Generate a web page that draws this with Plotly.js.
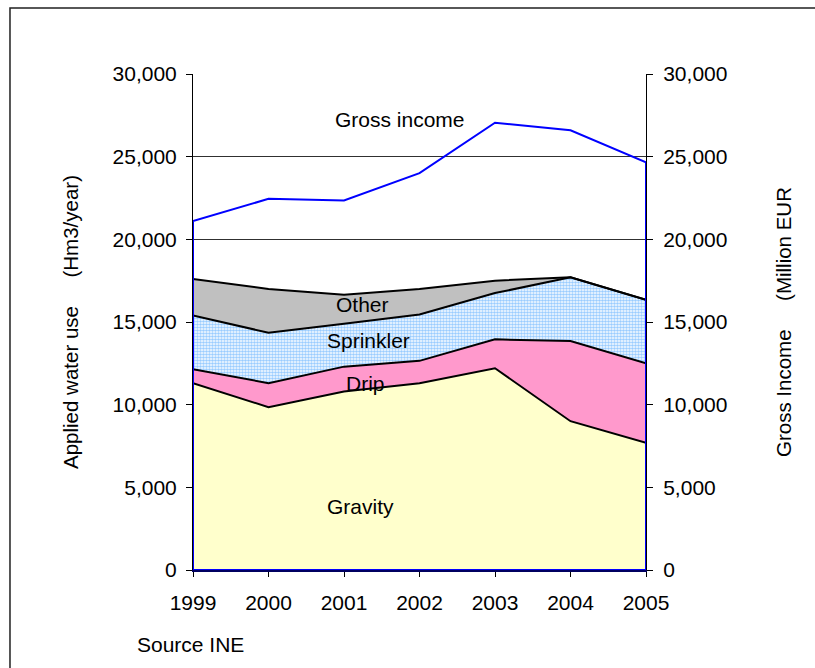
<!DOCTYPE html>
<html>
<head>
<meta charset="utf-8">
<script src="https://cdn.plot.ly/plotly-3.0.1.min.js"></script>
<style>html,body{margin:0;padding:0;background:#fff;}</style>
</head>
<body>
<div id="chart" style="width:815px;height:668px;"></div>
<script>
// ---- data ----
const years = [1999, 2000, 2001, 2002, 2003, 2004, 2005];
const gravity   = [11300, 9850, 10800, 11300, 12200, 9000, 7700];
const drip      = [850, 1450, 1500, 1350, 1750, 4850, 4800];
const sprinkler = [3250, 3050, 2600, 2800, 2800, 3850, 3850];
const other     = [2200, 2650, 1750, 1550, 750, 0, 0];
const grossIncome = [21100, 22450, 22350, 24000, 27050, 26600, 24650];
const seriesNames = ["Gravity", "Drip", "Sprinkler", "Other"];
const yTicks = [0, 5000, 10000, 15000, 20000, 25000, 30000];

const FONT = "Liberation Sans, Arial, sans-serif";
const FS = 21;
const TFS = 20.5;

const areaLine = {color: "#000000", width: 2};
const traces = [
  {x: years, y: gravity, name: seriesNames[0], stackgroup: "w", mode: "lines",
   line: areaLine, fillcolor: "#FFFFCC"},
  {x: years, y: drip, name: seriesNames[1], stackgroup: "w", mode: "lines",
   line: areaLine, fillcolor: "#FF99CC"},
  {x: years, y: sprinkler, name: seriesNames[2], stackgroup: "w", mode: "lines",
   line: areaLine, fillcolor: "#D4E8FC",
   fillpattern: {shape: ".", bgcolor: "#FFFFFF", fgcolor: "#99CCFF", size: 3, solidity: 0.6}},
  {x: years, y: other, name: seriesNames[3], stackgroup: "w", mode: "lines",
   line: areaLine, fillcolor: "#C0C0C0"},
  // gross income drawn as an unfilled area (Excel style) on the secondary axis
  {x: [years[0]].concat(years, [years[years.length - 1], years[0]]),
   y: [0].concat(grossIncome, [0, 0]),
   name: "Gross income", mode: "lines", yaxis: "y2",
   line: {color: "#0000FF", width: 2}}
];

const sp = "\u00A0";
const layout = {
  width: 815, height: 668,
  margin: {l: 193, r: 169, t: 74, b: 98},
  paper_bgcolor: "#FFFFFF", plot_bgcolor: "#FFFFFF",
  showlegend: false, hovermode: false,
  font: {family: FONT, size: FS, color: "#000000"},
  xaxis: {
    type: "linear", range: [1999, 2005], tickvals: years, ticktext: years.map(String),
    showgrid: false, zeroline: false, showline: true, linecolor: "#000060", linewidth: 2,
    ticks: "outside", ticklen: 5, tickcolor: "#000000", ticklabelstandoff: 8,
    tickfont: {family: FONT, size: FS}, automargin: false
  },
  yaxis: {
    range: [0, 30000], tickvals: yTicks, tickformat: ",d",
    showgrid: true, gridcolor: "#303030", gridwidth: 1, zeroline: false,
    showline: true, linecolor: "#000000", linewidth: 1,
    ticks: "outside", ticklen: 6, tickcolor: "#000000", ticklabelstandoff: 5,
    tickfont: {family: FONT, size: FS}, automargin: false,
    title: {text: "Applied water use" + sp.repeat(5) + "(Hm3/year)", font: {family: FONT, size: TFS}, standoff: 28}
  },
  yaxis2: {
    range: [0, 30000], tickvals: yTicks, tickformat: ",d",
    overlaying: "y", side: "right", showgrid: false, zeroline: false,
    showline: true, linecolor: "#000000", linewidth: 1,
    ticks: "outside", ticklen: 6, tickcolor: "#000000", ticklabelstandoff: 6,
    tickfont: {family: FONT, size: FS}, automargin: false,
    title: {text: "Gross Income" + sp.repeat(5) + "(Million EUR", font: {family: FONT, size: TFS}, standoff: 50}
  },
  annotations: [
    {x: 2001.74, y: 27250, xref: "x", yref: "y", text: "Gross income", showarrow: false, font: {size: FS}},
    {x: 2001.25, y: 16050, xref: "x", yref: "y", text: "Other", showarrow: false, font: {size: FS}},
    {x: 2001.32, y: 13900, xref: "x", yref: "y", text: "Sprinkler", showarrow: false, font: {size: FS}},
    {x: 2001.29, y: 11300, xref: "x", yref: "y", text: "Drip", showarrow: false, font: {size: FS}},
    {x: 2001.22, y: 3870, xref: "x", yref: "y", text: "Gravity", showarrow: false, font: {size: FS}},
    {x: -0.128, y: -0.151, xref: "paper", yref: "paper", xanchor: "left", yanchor: "middle",
     text: "Source INE", showarrow: false, font: {size: FS}}
  ],
  shapes: [
    {type: "rect", xref: "paper", yref: "paper", x0: -0.404, x1: 2, y0: -1, y1: 1.133,
     line: {color: "#202020", width: 1.5}, fillcolor: "rgba(0,0,0,0)", layer: "below"}
  ]
};

Plotly.newPlot("chart", traces, layout, {displayModeBar: false, staticPlot: true});
</script>
</body>
</html>
